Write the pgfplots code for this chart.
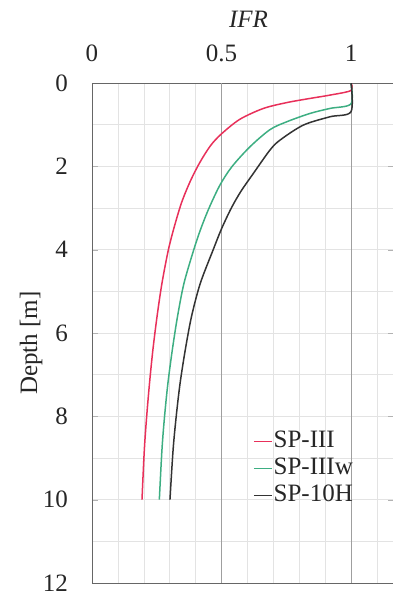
\documentclass[border=0pt]{standalone}
\usepackage{pgfplots}
\pgfplotsset{compat=1.18}
\usepackage{fontspec}
\setmainfont{Liberation Serif}
\definecolor{cred}{HTML}{E8305A}
\definecolor{cgreen}{HTML}{3DAE82}
\definecolor{cblack}{HTML}{333333}
\begin{document}
\fontsize{25}{29}\selectfont
\begin{tikzpicture}
\useasboundingbox (-92pt,-9pt) rectangle (301pt,583pt);
\begin{axis}[
  at={(0pt,0pt)}, anchor=south west,
  scale only axis, width=302pt, height=500pt,
  xmin=0, xmax=1.166, ymin=0, ymax=12, y dir=reverse,
  xtick={0,0.5,1}, xticklabels={0,0.5,1},
  ytick={0,2,4,6,8,10,12},
  minor xtick={0.1,0.2,0.3,0.4,0.6,0.7,0.8,0.9,1.1},
  minor ytick={1,3,5,7,9,11},
  xticklabel pos=right,
  xminorgrids, ymajorgrids, yminorgrids,
  major grid style={gray!22, line width=0.6pt},
  minor grid style={gray!22, line width=0.6pt},
  extra x ticks={0.5,1}, extra x tick labels={},
  extra x tick style={grid=major, major grid style={gray!75, line width=0.8pt}},
  xtick style={draw=none}, minor tick length=0pt,
  ytick style={gray!60}, major tick length=6pt, tick align=inside,
  axis line style={gray!80!black, line width=0.8pt},
  /pgf/number format/assume math mode=true,
  tick label style={font=\fontsize{25}{29}\selectfont, text=black!85},
  xticklabel style={anchor=south, inner sep=0pt, yshift=21pt},
  yticklabel style={anchor=east, inner sep=0pt, xshift=-24pt},
  xlabel={\textit{IFR}}, ylabel={Depth [m]},
  label style={font=\fontsize{25}{29}\selectfont, text=black!85},
  xlabel style={at={(axis description cs:0.518,1)}, anchor=south, inner sep=0pt, yshift=55pt},
  ylabel style={at={(axis description cs:0,0.48)}, anchor=center, inner sep=0pt, xshift=0pt, yshift=61pt},
  legend style={draw=none, fill=none, at={(axis cs:0.61,8.25)}, anchor=north west,
    font=\fontsize{25}{29}\selectfont, text=black!85, row sep=2pt,
    nodes={inner sep=1pt, text height=18pt, text depth=5pt}},
  legend cell align=left,
  legend image code/.code={\draw[#1] (0pt,0pt) -- (18pt,0pt);},
]
\addplot[cred, line width=1.5pt, smooth] coordinates {
(1,0) (1,0.18) (0.919,0.29) (0.842,0.37) (0.752,0.47) (0.662,0.61)
(0.571,0.87) (0.5,1.22) (0.458,1.5) (0.417,1.9) (0.38,2.35) (0.347,2.85)
(0.32,3.4) (0.295,4.0) (0.27,4.81) (0.251,5.61) (0.235,6.41) (0.222,7.21)
(0.211,8.01) (0.202,8.81) (0.193,10)};
\addlegendentry{SP-III}
\addplot[cgreen, line width=1.5pt, smooth] coordinates {
(1,0) (1,0.5) (0.919,0.61) (0.842,0.73) (0.752,0.93) (0.687,1.12)
(0.61,1.53) (0.54,2.01) (0.494,2.45) (0.452,3.0) (0.42,3.5) (0.393,4.0)
(0.355,4.81) (0.33,5.61) (0.31,6.41) (0.293,7.21) (0.28,8.01) (0.27,8.81)
(0.26,10)};
\addlegendentry{SP-IIIw}
\addplot[cblack, line width=1.5pt, smooth] coordinates {
(1,0) (1,0.69) (0.919,0.81) (0.816,1.01) (0.726,1.37) (0.687,1.61)
(0.623,2.17) (0.575,2.6) (0.538,3.0) (0.5,3.5) (0.468,4.0) (0.418,4.81)
(0.384,5.61) (0.36,6.41) (0.34,7.21) (0.325,8.01) (0.313,8.81) (0.301,10)};
\addlegendentry{SP-10H}
\end{axis}
\end{tikzpicture}
\end{document}
